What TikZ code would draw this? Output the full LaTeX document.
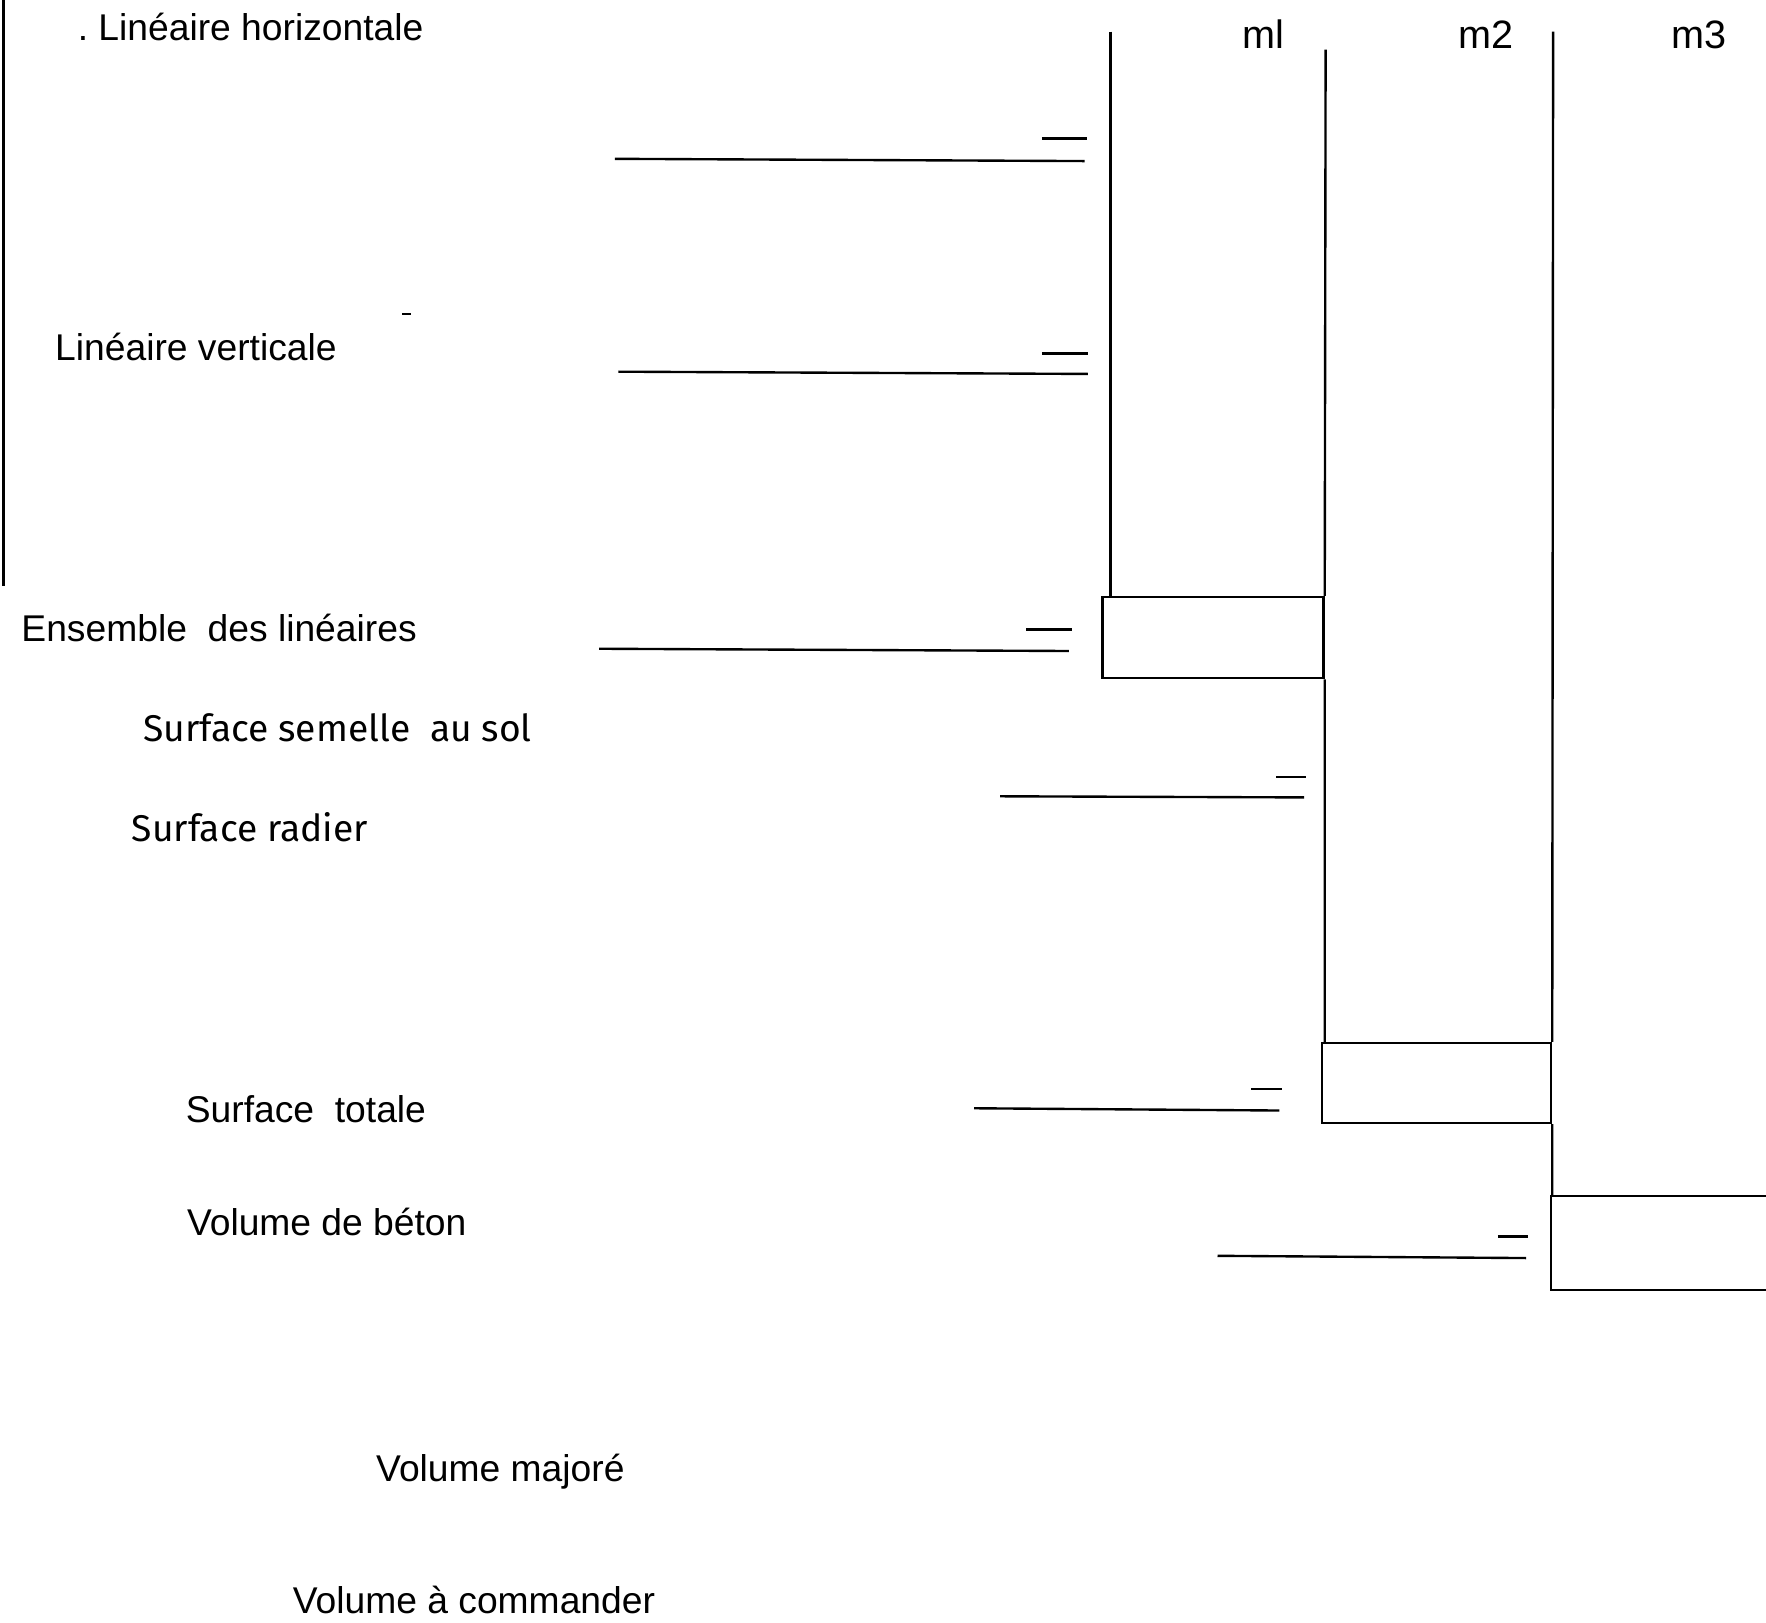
\documentclass[tikz,border=0pt]{standalone}
\usepackage{fontspec}
\setmainfont{Liberation Sans}
\newfontfamily\handfont{Fira Sans}

\begin{document}
\begin{tikzpicture}[x=0.01cm, y=-0.01cm, line width=0.6pt,
    every node/.style={font=\fontsize{9.4}{11}\selectfont, inner sep=0pt, anchor=base west},
    hand/.style={font=\fontsize{9.4}{11}\handfont},
    unitbox/.style={draw, rectangle, anchor=north west}]
  \useasboundingbox (0,0) rectangle (1568,1441);
  \clip (0,0) rectangle (1568,1441);
  \draw (3,0) -- (3,520); % left margin

  % labels
  \node (lblHoriz) at (68,36) {.\ Linéaire horizontale};
  \node (lblVert) at (48,320) {Linéaire verticale};
  \node (lblEnsemble) at (18,570) {Ensemble\ \ des linéaires};
  \node[hand] (lblSemelle) at (126,658) {Surface semelle\ \ au sol};
  \node[hand] (lblRadier) at (116,747) {Surface radier};
  \node (lblTotale) at (164,997) {Surface\ \ totale};
  \node (lblBeton) at (165,1097) {Volume de béton};
  \node (lblMajore) at (333,1315) {Volume majoré};
  \node (lblCommande) at (259,1433) {Volume à commander};
  \node[font=\fontsize{10}{12}\selectfont] (unitMl) at (1102,43) {ml};
  \node[font=\fontsize{10}{12}\selectfont] (unitMm) at (1294,43) {m2};
  \node[font=\fontsize{10}{12}\selectfont] (unitMc) at (1483,43) {m3};

  % blanks to fill in
  \draw (546,141) -- (963,143); \draw (925,123) -- (965,123);
  \draw (549,330) -- (966,332); \draw (925,314) -- (966,314);
  \draw (357,279) -- (365,279);
  \draw (532,576) -- (949,578); \draw (911,559) -- (952,559);
  \draw (888,707) -- (1158,708); \draw (1133,690) -- (1160,690);
  \draw (865,984) -- (1136,986); \draw (1111,967) -- (1138,967);
  \draw (1081,1115) -- (1355,1117); \draw (1330,1098) -- (1357,1098);

  % result boxes
  \node[unitbox, minimum width=1.96cm, minimum height=0.72cm] (boxMl) at (978,529) {};
  \node[unitbox, minimum width=2.03cm, minimum height=0.71cm] (boxMm) at (1173,925) {};
  \node[unitbox, minimum width=3cm, minimum height=0.83cm] (boxMc) at (1376,1061) {};

  % columns
  \coordinate (colMl) at (986,28);
  \coordinate (colMm) at (1177,44);
  \coordinate (colMc) at (1379,28);
  \draw (colMl) -- (colMl |- boxMl.north);
  \draw (colMm) -- (boxMl.north east) (boxMl.south east) -- (boxMl.south east |- boxMm.north);
  \draw (colMc) -- (boxMm.north east) (boxMm.south east) -- (boxMm.south east |- boxMc.north);
\end{tikzpicture}
\end{document}
